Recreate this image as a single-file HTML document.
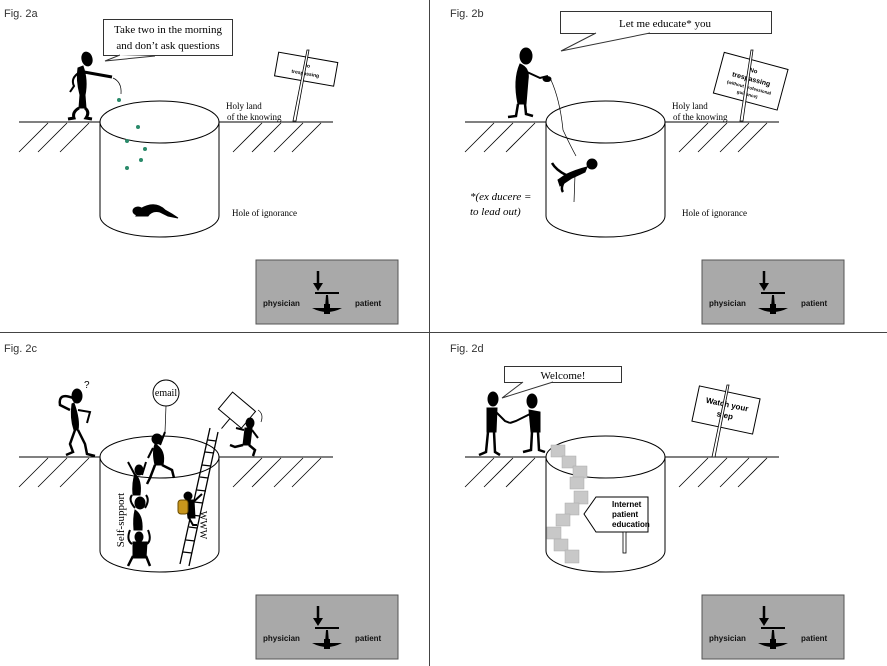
<!DOCTYPE html>
<html><head><meta charset="utf-8"><style>
html,body{margin:0;padding:0;background:#fff;}
svg{display:block;}
.s{font-family:"Liberation Serif",serif;}
.f{font-family:"Liberation Sans",sans-serif;font-size:11px;fill:#333;}
.b{font-family:"Liberation Sans",sans-serif;font-size:8px;font-weight:bold;fill:#111;}
</style></head><body>
<svg width="887" height="666" viewBox="0 0 887 666" xmlns="http://www.w3.org/2000/svg">
<defs>
<g id="box">
<rect x="0" y="0" width="142" height="64" fill="#a9a9a9" stroke="#555" stroke-width="1"/>
<line x1="62" y1="11" x2="62" y2="24" stroke="#000" stroke-width="2.5"/>
<polygon points="57,23 67,23 62,31" fill="#000"/>
<rect x="59" y="32" width="24" height="2" fill="#000"/>
<polygon points="70,35 72,35 73,48 69,48" fill="#000"/>
<path d="M56,48 Q71,56 86,48 Z" fill="#000"/>
<rect x="68" y="44" width="6" height="10" fill="#000"/>
<text class="b" x="7" y="46">physician</text>
<text class="b" x="99" y="46">patient</text>
</g>
<g id="ground">
<line x1="19" y1="0" x2="100" y2="0" stroke="#000"/>
<line x1="219" y1="0" x2="333" y2="0" stroke="#000"/>
<g stroke="#000" stroke-width="0.8">
<line x1="19" y1="30" x2="48" y2="1"/><line x1="38" y1="30" x2="67" y2="1"/><line x1="60" y1="30" x2="89" y2="1"/>
<line x1="233" y1="30" x2="262" y2="1"/><line x1="252" y1="30" x2="281" y2="1"/><line x1="274" y1="30" x2="303" y2="1"/><line x1="292" y1="30" x2="321" y2="1"/>
</g>
<path d="M100,0 A59.5,21 0 0 1 219,0 A59.5,21 0 0 1 100,0 Z" fill="none" stroke="#000"/>
<line x1="100" y1="0" x2="100" y2="94" stroke="#000"/>
<line x1="219" y1="0" x2="219" y2="94" stroke="#000"/>
<path d="M100,94 A59.5,21 0 0 0 219,94" fill="none" stroke="#000"/>
</g>
</defs>

<!-- dividers -->
<line x1="429.5" y1="0" x2="429.5" y2="666" stroke="#444"/>
<line x1="0" y1="332.5" x2="887" y2="332.5" stroke="#444"/>

<!-- Panel A -->
<text class="f" x="4" y="17">Fig. 2a</text>
<use href="#ground" x="0" y="122"/>
<rect x="103.5" y="19.5" width="129" height="36" fill="#fff" stroke="#333"/>
<path d="M120,55 L105,61 L155,56" fill="#fff" stroke="#333"/>
<text class="s" x="168" y="33" font-size="11" text-anchor="middle">Take two in the morning</text>
<text class="s" x="168" y="49" font-size="11" text-anchor="middle">and don’t ask questions</text>
<g fill="#000" stroke="#000">
<ellipse cx="87" cy="59" rx="5" ry="7" transform="rotate(-15 87 59)"/>
<path d="M83,66 Q88,80 85,95 L86,108 L79,108 L80,95 Q76,80 78,68 Z"/>
<path d="M79,108 Q72,112 74,118 L68,119" fill="none" stroke-width="3"/>
<path d="M85,108 Q90,112 86,118 L92,119" fill="none" stroke-width="3"/>
<path d="M84,72 L112,77" fill="none" stroke-width="3"/>
<path d="M80,72 Q70,78 74,86 L70,92" fill="none" stroke-width="2"/>
<path d="M113,78 Q122,82 121,94" fill="none" stroke-width="0.7"/>
</g>
<g fill="#2a8a6a"><circle cx="119" cy="100" r="2"/><circle cx="138" cy="127" r="2"/><circle cx="127" cy="141" r="2"/><circle cx="145" cy="149" r="2"/><circle cx="141" cy="160" r="2"/><circle cx="127" cy="168" r="2"/></g>
<g fill="#000" stroke="#000">
<ellipse cx="138" cy="211" rx="5" ry="4"/>
<path d="M140,209 Q155,200 165,210 L172,214 L178,218 L168,216 L160,212 Q152,210 148,216 L136,216 Z"/>
</g>
<g transform="rotate(10 305 70)">
<rect x="276" y="57" width="60" height="24" fill="#fff" stroke="#000"/>
<text x="306" y="67" font-family="Liberation Sans,sans-serif" font-size="5" font-weight="bold" text-anchor="middle">No</text>
<text x="306" y="75" font-family="Liberation Sans,sans-serif" font-size="5" font-weight="bold" text-anchor="middle">trespassing</text>
</g>
<path d="M307,50 L309,50 L296,121 L293,121 Z" fill="#fff" stroke="#000" stroke-width="0.8"/>
<text class="s" x="226" y="109" font-size="9">Holy land</text>
<text class="s" x="227" y="120" font-size="9">of the knowing</text>
<text class="s" x="232" y="216" font-size="9">Hole of ignorance</text>
<use href="#box" x="256" y="260"/>

<!-- Panel B -->
<text class="f" x="450" y="17">Fig. 2b</text>
<use href="#ground" x="446" y="122" transform="translate(0,0)"/>
<rect x="560.5" y="11.5" width="211" height="22" fill="#fff" stroke="#333"/>
<path d="M596,33 L561,51 L650,33" fill="#fff" stroke="#333"/>
<text class="s" x="665" y="27" font-size="11" text-anchor="middle">Let me educate* you</text>
<g fill="#000" stroke="#000">
<ellipse cx="526" cy="56" rx="6" ry="8"/>
<path d="M520,64 Q530,68 528,80 L526,104 L518,104 Q513,80 520,64 Z"/>
<path d="M518,104 L516,116 L508,117" fill="none" stroke-width="2.5"/>
<path d="M525,104 L526,114 L533,116" fill="none" stroke-width="2.5"/>
<path d="M527,72 L540,78 L548,76" fill="none" stroke-width="2"/>
<ellipse cx="547" cy="79" rx="4" ry="2.5"/>
<path d="M551,80 Q560,100 563,130 Q570,145 576,156" fill="none" stroke-width="0.7"/>
<ellipse cx="592" cy="164" rx="5" ry="5"/>
<path d="M587,167 Q575,170 565,175 L558,180 L560,186 L572,178 L585,172 Z"/>
<path d="M566,175 Q556,170 552,163" fill="none" stroke-width="2.5"/>
<path d="M565,180 Q560,188 563,192" fill="none" stroke-width="2.5"/>
<path d="M575,175 L574,202" fill="none" stroke-width="0.7"/>
</g>
<text class="s" x="470" y="200" font-size="11" font-style="italic">*(ex ducere =</text>
<text class="s" x="470" y="215" font-size="11" font-style="italic">to lead out)</text>
<g transform="rotate(15 750 80)">
<rect x="718" y="60" width="66" height="42" fill="#fff" stroke="#000"/>
<text x="751" y="72" font-family="Liberation Sans,sans-serif" font-size="6" font-weight="bold" text-anchor="middle">No</text>
<text x="751" y="81" font-family="Liberation Sans,sans-serif" font-size="7" font-weight="bold" text-anchor="middle">trespassing</text>
<text x="751" y="89" font-family="Liberation Sans,sans-serif" font-size="4.5" font-weight="bold" text-anchor="middle">(without professional</text>
<text x="751" y="96" font-family="Liberation Sans,sans-serif" font-size="4.5" font-weight="bold" text-anchor="middle">guidance)</text>
</g>
<path d="M751,50 L753,50 L743,121 L740,121 Z" fill="#fff" stroke="#000" stroke-width="0.8"/>
<text class="s" x="672" y="109" font-size="9">Holy land</text>
<text class="s" x="673" y="120" font-size="9">of the knowing</text>
<text class="s" x="682" y="216" font-size="9">Hole of ignorance</text>
<use href="#box" x="702" y="260"/>

<!-- Panel C -->
<text class="f" x="4" y="352">Fig. 2c</text>
<use href="#ground" x="0" y="457"/>
<g fill="#000" stroke="#000">
<text x="84" y="388" font-family="Liberation Sans,sans-serif" font-size="10" stroke="none">?</text>
<ellipse cx="77" cy="396" rx="5" ry="7"/>
<path d="M74,403 Q80,420 78,430 L74,430 Q70,418 72,404 Z"/>
<path d="M73,398 Q58,392 60,405 L70,410" fill="none" stroke-width="2.5"/>
<path d="M78,410 L90,412 L87,423" fill="none" stroke-width="2"/>
<path d="M75,430 L70,444 L73,452 L66,455" fill="none" stroke-width="2.5"/>
<path d="M78,430 L85,444 L87,454 L95,456" fill="none" stroke-width="2.5"/>
</g>
<circle cx="166" cy="393" r="13" fill="#fff" stroke="#000"/>
<text class="s" x="166" y="396" font-size="10" text-anchor="middle">email</text>
<line x1="166" y1="406" x2="165" y2="432" stroke="#000" stroke-width="0.7"/>
<g fill="#000" stroke="#000">
<ellipse cx="157" cy="439" rx="5" ry="5"/>
<path d="M155,444 Q166,450 163,465 L155,465 Q152,452 155,444 Z"/>
<path d="M160,445 L165,432" fill="none" stroke-width="2"/>
<path d="M155,465 L150,478 L147,484" fill="none" stroke-width="2.5"/>
<path d="M162,465 L172,470 L174,478" fill="none" stroke-width="2.5"/>
<path d="M153,448 L148,458" fill="none" stroke-width="2"/>
<!-- stack -->
<ellipse cx="139" cy="470" rx="4" ry="5"/>
<path d="M135,474 Q142,480 140,495 L133,495 Q132,482 135,474 Z"/>
<path d="M135,475 L128,462 M142,475 L146,462" fill="none" stroke-width="2"/>
<ellipse cx="140" cy="503" rx="5" ry="6"/>
<path d="M135,510 Q143,515 142,530 L134,530 Q133,518 135,510 Z"/>
<path d="M135,508 Q128,500 132,495 M145,508 Q150,500 146,495" fill="none" stroke-width="2"/>
<ellipse cx="139" cy="537" rx="4" ry="5"/>
<path d="M133,542 L147,542 L146,558 L133,558 Z"/>
<path d="M132,544 Q126,540 130,530 M147,544 Q152,540 148,530" fill="none" stroke-width="2"/>
<path d="M133,556 L128,566 M146,556 L150,566" fill="none" stroke-width="2.5"/>
</g>
<text class="s" font-size="11" transform="translate(124,520) rotate(-90)" text-anchor="middle">Self-support</text>
<g stroke="#000" stroke-width="1.3">
<line x1="180" y1="564" x2="210" y2="428"/>
<line x1="189" y1="566" x2="218" y2="432"/>
<line x1="183" y1="552" x2="192" y2="553"/><line x1="186" y1="540" x2="195" y2="541"/><line x1="189" y1="527" x2="197" y2="528"/>
<line x1="191" y1="515" x2="200" y2="516"/><line x1="194" y1="502" x2="203" y2="503"/><line x1="197" y1="490" x2="206" y2="491"/>
<line x1="200" y1="477" x2="208" y2="478"/><line x1="202" y1="465" x2="211" y2="466"/><line x1="205" y1="452" x2="214" y2="453"/><line x1="208" y1="440" x2="216" y2="441"/>
</g>
<g fill="#000" stroke="#000">
<ellipse cx="188" cy="496" rx="4" ry="4"/>
<path d="M186,500 L194,500 L195,518 L188,518 Z"/>
<path d="M190,505 L202,494" fill="none" stroke-width="2"/>
<path d="M189,518 L193,525 L197,525" fill="none" stroke-width="2"/>
</g>
<rect x="178" y="500" width="10" height="14" rx="3" fill="#c8961c" stroke="#6a4b00"/>
<text class="s" font-size="10" transform="translate(200,525) rotate(90)" text-anchor="middle">WWW</text>
<g transform="rotate(40 230 420)">
<rect x="214" y="397" width="30" height="22" fill="#fff" stroke="#000"/>
<line x1="229" y1="419" x2="229" y2="432" stroke="#000"/>
</g>
<g fill="#000" stroke="#000">
<ellipse cx="250" cy="423" rx="4" ry="5"/>
<path d="M245,428 L252,428 L250,445 L243,445 Z"/>
<path d="M244,430 L236,428 M252,430 L258,438" fill="none" stroke-width="2"/>
<path d="M243,445 L235,447 L230,445 M249,445 L255,450 L253,456" fill="none" stroke-width="2.5"/>
<path d="M258,410 Q264,414 261,422" fill="none" stroke-width="0.7"/>
</g>
<use href="#box" x="256" y="595"/>

<!-- Panel D -->
<text class="f" x="450" y="352">Fig. 2d</text>
<use href="#ground" x="446" y="457"/>
<rect x="504.5" y="366.5" width="117" height="16" fill="#fff" stroke="#333"/>
<path d="M523,382 L502,398 L553,382" fill="#fff" stroke="#333"/>
<text class="s" x="563" y="379" font-size="11" text-anchor="middle">Welcome!</text>
<g fill="#000" stroke="#000">
<ellipse cx="493" cy="399" rx="5" ry="7"/>
<path d="M487,408 L497,408 L496,432 L487,432 Z"/>
<path d="M496,412 L505,421 L510,423" fill="none" stroke-width="2"/>
<path d="M488,432 L486,452 L479,455 M494,432 L495,452 L500,455" fill="none" stroke-width="2.5"/>
<ellipse cx="532" cy="401" rx="5" ry="7"/>
<path d="M529,410 L540,412 L540,432 L531,432 Z"/>
<path d="M530,414 L516,421 L510,423" fill="none" stroke-width="2"/>
<path d="M532,432 L531,450 L523,452 M538,432 L539,450 L545,452" fill="none" stroke-width="2.5"/>
</g>
<g fill="#c8c8c8" stroke="#aaa" stroke-width="0.5">
<rect x="551" y="445" width="14" height="12"/><rect x="562" y="456" width="14" height="12"/><rect x="573" y="466" width="14" height="12"/><rect x="570" y="477" width="14" height="12"/>
<rect x="574" y="491" width="14" height="13"/><rect x="565" y="503" width="14" height="12"/><rect x="556" y="514" width="14" height="12"/><rect x="547" y="527" width="14" height="12"/>
<rect x="554" y="539" width="14" height="12"/><rect x="565" y="550" width="14" height="13"/>
</g>
<path d="M593,497 L648,497 L648,532 L593,532 L594,532 L594,532 L594,532 L593,532 L594,532 Z" fill="none"/>
<path d="M596,497 L648,497 L648,532 L596,532 L584,514 Z" fill="#fff" stroke="#000"/>
<text x="612" y="507" font-family="Liberation Sans,sans-serif" font-size="8" font-weight="bold">Internet</text>
<text x="612" y="517" font-family="Liberation Sans,sans-serif" font-size="8" font-weight="bold">patient</text>
<text x="612" y="527" font-family="Liberation Sans,sans-serif" font-size="8" font-weight="bold">education</text>
<rect x="623" y="532" width="3" height="21" fill="#fff" stroke="#000" stroke-width="0.8"/>
<g transform="rotate(12 726 410)">
<rect x="695" y="392" width="62" height="36" fill="#fff" stroke="#000"/>
<text x="726" y="407" font-family="Liberation Sans,sans-serif" font-size="8" font-weight="bold" text-anchor="middle">Watch your</text>
<text x="726" y="418" font-family="Liberation Sans,sans-serif" font-size="8" font-weight="bold" text-anchor="middle">step</text>
</g>
<path d="M727,385 L729,385 L715,457 L712,457 Z" fill="#fff" stroke="#000" stroke-width="0.8"/>
<use href="#box" x="702" y="595"/>
</svg>
</body></html>
